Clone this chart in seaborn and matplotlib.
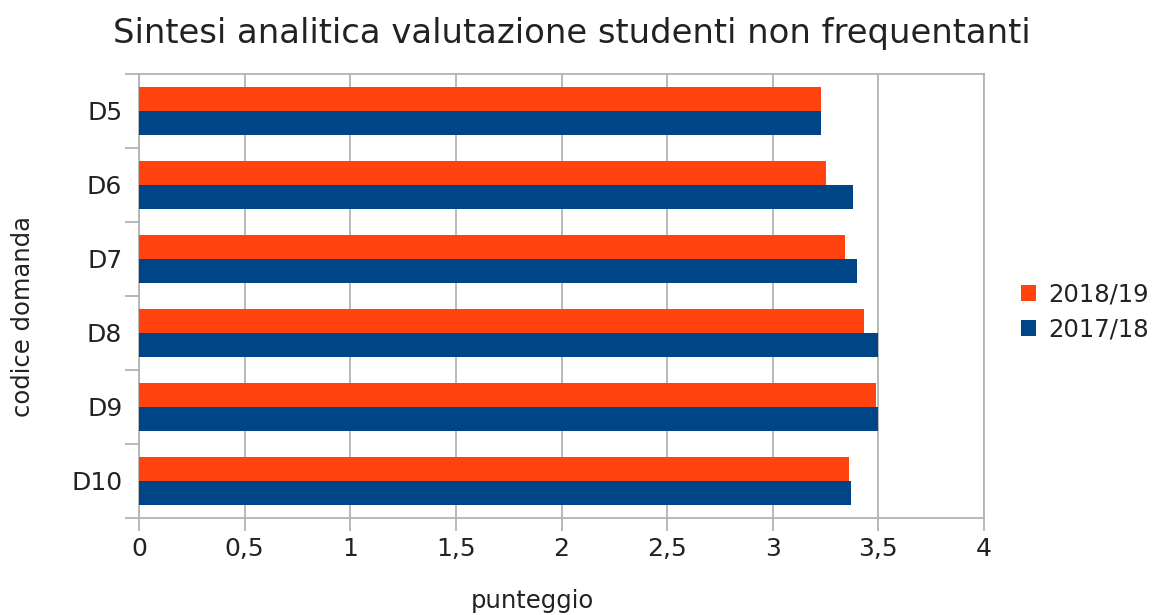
import numpy as np
import pandas as pd
import matplotlib
matplotlib.use("Agg")
import matplotlib.pyplot as plt
import seaborn as sns
from matplotlib.ticker import FixedLocator, FuncFormatter

# --- data
domande = ["D5", "D6", "D7", "D8", "D9", "D10"]
punteggio_1819 = [3.23, 3.25, 3.34, 3.43, 3.49, 3.36]
punteggio_1718 = [3.23, 3.38, 3.40, 3.50, 3.50, 3.37]
anni = ["2018/19", "2017/18"]
colori = ["#FF420E", "#004586"]

df = pd.DataFrame({
    "codice": domande * 2,
    "punteggio": punteggio_1819 + punteggio_1718,
    "anno": [anni[0]] * len(domande) + [anni[1]] * len(domande),
})

sns.set_style("white")
plt.rcParams["font.family"] = ["DejaVu Sans"]

fig = plt.figure(figsize=(11.56, 6.15), dpi=100)
ax = fig.add_axes([139 / 1156, 1 - 518 / 615, (984 - 139) / 1156, (518 - 74) / 615])

sns.barplot(data=df, x="punteggio", y="codice", hue="anno", order=domande,
            hue_order=anni, palette=colori, orient="h", width=0.65,
            saturation=1, linewidth=0, ax=ax, zorder=3)

grid_col = "#b3b3b3"
txt_col = "#222222"
ax.set_xlim(0, 4)
ax.set_ylim(len(domande) - 0.5, -0.5)
ax.set_xticks(np.arange(0, 4.01, 0.5))
ax.xaxis.set_major_formatter(FuncFormatter(lambda v, p: f"{v:g}".replace(".", ",")))
ax.grid(axis="x", color=grid_col, linewidth=1.3, zorder=0)
ax.set_axisbelow(True)

# y ticks between categories, labels at centres
ax.set_yticks(range(len(domande)))
ax.set_yticklabels(domande)
ax.yaxis.set_minor_locator(FixedLocator(np.arange(-0.5, len(domande), 1)))
ax.tick_params(axis="y", which="major", length=0, pad=12, labelsize=18, labelcolor=txt_col)
ax.tick_params(axis="y", which="minor", length=10, width=1.3, color=grid_col, left=True)
ax.tick_params(axis="x", which="major", length=9, width=1.3, color=grid_col, bottom=True,
               labelsize=18, labelcolor=txt_col, pad=5)

for s in ax.spines.values():
    s.set_color(grid_col)
    s.set_linewidth(1.3)

ax.set_xlabel("punteggio", fontsize=17.5, color=txt_col)
ax.set_ylabel("codice domanda", fontsize=17.5, color=txt_col)
ax.xaxis.set_label_coords(0.465, -0.16)
ax.yaxis.set_label_coords(-0.123, 0.453)
fig.suptitle("Sintesi analitica valutazione studenti non frequentanti",
             fontsize=24.4, color=txt_col, x=572 / 1156, y=0.972)

leg = ax.legend(loc="center left", bbox_to_anchor=(1.029, 0.464), frameon=False,
                fontsize=17.5, handlelength=0.65, handleheight=0.65, handletextpad=0.5,
                labelspacing=0.45, borderpad=0)
for t in leg.get_texts():
    t.set_color(txt_col)

fig.savefig("out.png", dpi=100)
